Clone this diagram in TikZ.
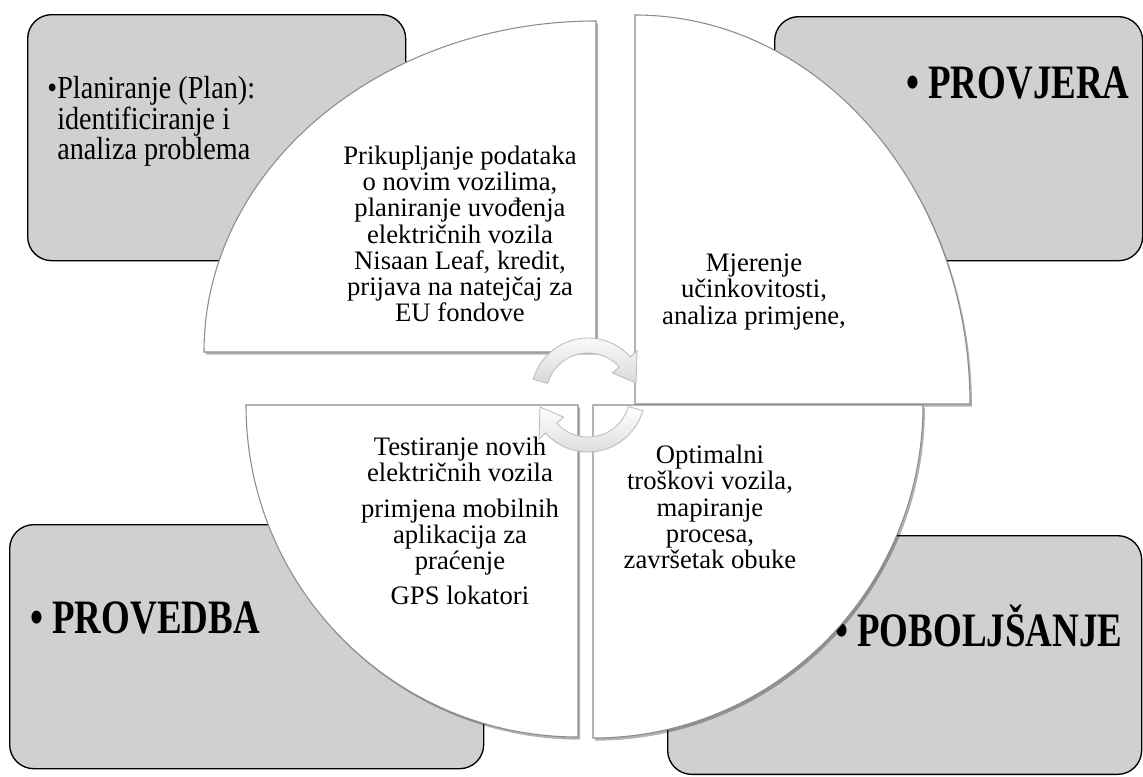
\documentclass[tikz,border=0pt]{standalone}
\usepackage{fontspec}
\setmainfont{Liberation Serif}[BoldFont={Liberation Serif Bold}]
\newfontfamily\headfont{Liberation Serif Bold}[FakeStretch=0.77]
\newfontfamily\planfont{Liberation Serif}[FakeStretch=0.88]
\usetikzlibrary{shadows}

\definecolor{boxgray}{RGB}{208,208,208}
\definecolor{edgegray}{RGB}{140,140,140}

\begin{document}
\begin{tikzpicture}[x=0.75pt,y=-0.75pt]
        \tikzstyle{phasebox}=[draw=black,line width=1pt,fill=boxgray,rounded corners=18pt,inner sep=0pt,anchor=north west]
        \tikzstyle{sector}=[draw=edgegray,line width=0.8pt,fill=white,drop shadow={shadow xshift=1.5pt,shadow yshift=-2pt,opacity=0.3,fill=black}]
        \tikzstyle{sectortext}=[align=center,inner sep=0pt,font=\fontsize{20}{19.6}\selectfont]
        \tikzstyle{phasetitle}=[anchor=base west,inner sep=0pt,font=\headfont\fontsize{36}{40}\selectfont]
        \tikzstyle{cyclearrow}=[draw=gray!55,line width=0.6pt,top color=white,bottom color=gray!30]

        \useasboundingbox (0,0) rectangle (1143,776);

        % corner boxes
        \node [phasebox,minimum width=283.5pt,minimum height=184.5pt] (planbox) at (27,14) {};
        \node [phasebox,minimum width=276pt,minimum height=183pt] (checkbox) at (774,16) {};
        \node [phasebox,minimum width=355.5pt,minimum height=183pt] (dobox) at (9,524) {};
        \node [phasebox,minimum width=355.5pt,minimum height=179pt] (actbox) at (667,535) {};

        \node [anchor=north west,align=left,inner sep=0pt,font=\planfont\fontsize{24}{17.6}\selectfont] (plantitle) at (57,76) {\llap{•}Planiranje (Plan):\\identificiranje i\\analiza problema};
        \node [phasetitle] (checktitle) at (906,98) {• PROVJERA};
        \node [phasetitle] (dotitle) at (30,633) {• PROVEDBA};
        \node [phasetitle] (acttitle) at (835,646) {• POBOLJŠANJE};

        % quarter sectors
        \draw [sector] (596,352) -- (204,352) arc [start angle=180,end angle=270,x radius=392,y radius=331] -- cycle;
        \draw [sector] (635,404) -- (635,15) arc [start angle=270,end angle=360,x radius=335,y radius=389] -- cycle;
        \draw [sector] (578,405) -- (246,405) arc [start angle=180,end angle=90,radius=332] -- cycle;
        \draw [sector] (593,405) -- (923,405) arc [start angle=0,end angle=90,x radius=330,y radius=333] -- cycle;

        \node [sectortext] (plantext) at (460,234) {Prikupljanje podataka\\o novim vozilima,\\planiranje uvođenja\\električnih vozila\\Nisaan Leaf, kredit,\\prijava na natejčaj za\\EU fondove};
        \node [sectortext] (checktext) at (754,292) {Mjerenje\\učinkovitosti,\\analiza primjene,};
        \node [sectortext] (dotext) at (460,521) {Testiranje novih\\električnih vozila\\[7pt]primjena mobilnih\\aplikacija za\\praćenje\\[7pt]GPS lokatori};
        \node [sectortext] (acttext) at (710,507) {Optimalni\\troškovi vozila,\\mapiranje\\procesa,\\završetak obuke};

        % cycle arrows in the middle
        \begin{scope}[shift={(588,395)}]
          \foreach \a in {196,16}
            \path [cyclearrow] (\a:57) arc [start angle=\a,end angle=\a+122,radius=57]
              -- (\a+122:66) -- (\a+150:49.5) -- (\a+122:33) -- (\a+122:42)
              arc [start angle=\a+122,end angle=\a,radius=42] -- cycle;
        \end{scope}
\end{tikzpicture}
\end{document}
